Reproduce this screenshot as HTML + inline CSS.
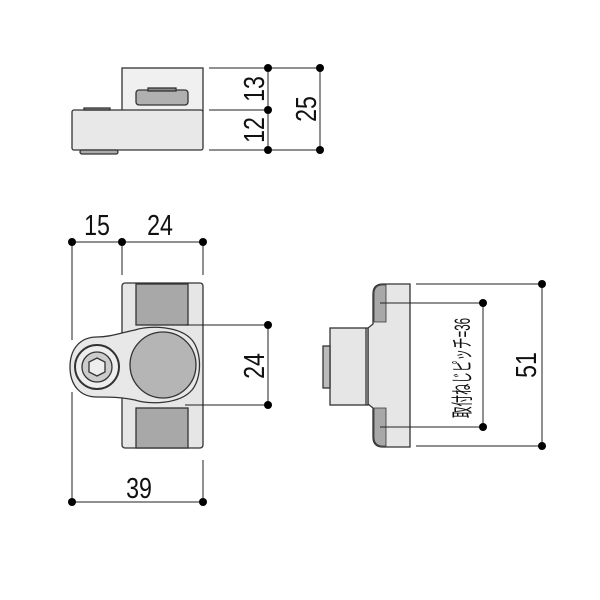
<!DOCTYPE html>
<html><head><meta charset="utf-8"><style>html,body{margin:0;padding:0;background:#fff}svg{display:block}</style></head>
<body>
<svg width="600" height="600" viewBox="0 0 600 600" xmlns="http://www.w3.org/2000/svg" font-family="'Liberation Sans','Noto Sans CJK JP',sans-serif">
<g stroke="#333" stroke-width="1.3">
<!-- top view -->
<rect x="122" y="68" width="81" height="43" fill="#f0f0f0"/>
<rect x="136" y="90" width="52" height="15" rx="3" fill="#b0b0b0"/>
<rect x="148" y="88" width="28" height="3" fill="#888"/>
<rect x="72" y="110" width="131" height="40" rx="2" fill="#e8e8e8"/>
<rect x="80" y="150" width="38" height="4" rx="2" fill="#aaa"/>
<rect x="84" y="108" width="26" height="2" fill="#999"/>
</g>
<g stroke="#222" stroke-width="1" fill="none">
<line x1="209" y1="68" x2="320" y2="68"/>
<line x1="209" y1="110" x2="268" y2="110"/>
<line x1="209" y1="150" x2="320" y2="150"/>
<line x1="268" y1="68" x2="268" y2="150"/>
<line x1="320" y1="68" x2="320" y2="150"/>
</g>
<g fill="#000">
<circle cx="268" cy="68" r="4"/><circle cx="268" cy="110" r="4"/><circle cx="268" cy="150" r="4"/>
<circle cx="320" cy="68" r="4"/><circle cx="320" cy="150" r="4"/>
</g>
<g font-size="29" fill="#111" text-anchor="middle">
<text transform="translate(264,89) rotate(-90) scale(0.8,1)">13</text>
<text transform="translate(264,130) rotate(-90) scale(0.8,1)">12</text>
<text transform="translate(316,109) rotate(-90) scale(0.8,1)">25</text>
</g>

<!-- front view -->
<g stroke="#333" stroke-width="1.3">
<rect x="122" y="283" width="81" height="165" rx="3" fill="#e6e6e6"/>
<rect x="136" y="284" width="52" height="41" fill="#a8a8a8"/>
<rect x="136" y="408" width="52" height="40" fill="#a8a8a8"/>
<path d="M97,337 C110,337 120,333 135,330 C150,325 180,326 192,340 C202,352 202,378 192,390 C180,404 150,405 135,400 C120,397 110,397 97,397 C80,397 70,385 70,367 C70,349 80,337 97,337 Z" fill="#e8e8e8"/>
<circle cx="163" cy="365" r="33" fill="#b5b5b5"/>
<circle cx="97" cy="367" r="22" fill="#eee" stroke-width="2"/>
<circle cx="97" cy="367" r="15" fill="#ccc"/>
<polygon points="97,358 105,362 105,372 97,376 89,372 89,362" fill="#eee"/>
</g>
<g stroke="#222" stroke-width="1" fill="none">
<line x1="72" y1="242" x2="203" y2="242"/>
<line x1="72" y1="242" x2="72" y2="340"/>
<line x1="72" y1="392" x2="72" y2="502"/>
<line x1="122" y1="242" x2="122" y2="275"/>
<line x1="203" y1="242" x2="203" y2="275"/>
<line x1="72" y1="502" x2="203" y2="502"/>
<line x1="203" y1="460" x2="203" y2="502"/>
<line x1="185" y1="325" x2="268" y2="325"/>
<line x1="185" y1="405" x2="268" y2="405"/>
<line x1="268" y1="325" x2="268" y2="405"/>
</g>
<g fill="#000">
<circle cx="72" cy="242" r="4"/><circle cx="122" cy="242" r="4"/><circle cx="203" cy="242" r="4"/>
<circle cx="72" cy="502" r="4"/><circle cx="203" cy="502" r="4"/>
<circle cx="268" cy="325" r="4"/><circle cx="268" cy="405" r="4"/>
</g>
<g font-size="29" fill="#111" text-anchor="middle">
<text transform="translate(97,235) scale(0.8,1)">15</text>
<text transform="translate(160,235) scale(0.8,1)">24</text>
<text transform="translate(139,498) scale(0.8,1)">39</text>
<text transform="translate(264,366) rotate(-90) scale(0.8,1)">24</text>
<text transform="translate(536,365) rotate(-90) scale(0.8,1)">51</text>
</g>

<!-- side view -->
<g stroke="#333" stroke-width="1.3">
<path d="M383,284 L410,284 L410,447 L383,447 Q373,447 373,437 L373,408 L368,404 L368,328 L373,324 L373,294 Q373,284 383,284 Z" fill="#e6e6e6"/>
<path d="M383,285 L386,285 L386,322 L374,322 L374,294 Q374,285 383,285 Z" fill="#a8a8a8" stroke-width="0.8"/>
<path d="M374,408 L386,408 L386,446 L383,446 Q374,446 374,437 Z" fill="#a8a8a8" stroke-width="0.8"/>
<rect x="330" y="328" width="38" height="77" fill="#e6e6e6"/>
<line x1="366" y1="328" x2="366" y2="405"/>
<rect x="323" y="346" width="7" height="42" fill="#bbb"/>
</g>
<g stroke="#222" stroke-width="1" fill="none">
<line x1="416" y1="284" x2="542" y2="284"/>
<line x1="416" y1="446" x2="542" y2="446"/>
<line x1="542" y1="284" x2="542" y2="446"/>
<line x1="380" y1="303" x2="483" y2="303"/>
<line x1="380" y1="427" x2="483" y2="427"/>
<line x1="483" y1="303" x2="483" y2="427"/>
</g>
<g fill="#000">
<circle cx="542" cy="284" r="4"/><circle cx="542" cy="446" r="4"/>
<circle cx="483" cy="303" r="4"/><circle cx="483" cy="427" r="4"/>
</g>
<text transform="translate(470,418) rotate(-90)" font-size="22" fill="#111" textLength="100" lengthAdjust="spacingAndGlyphs">取付ねじピッチ=36</text>
</svg>
</body></html>
